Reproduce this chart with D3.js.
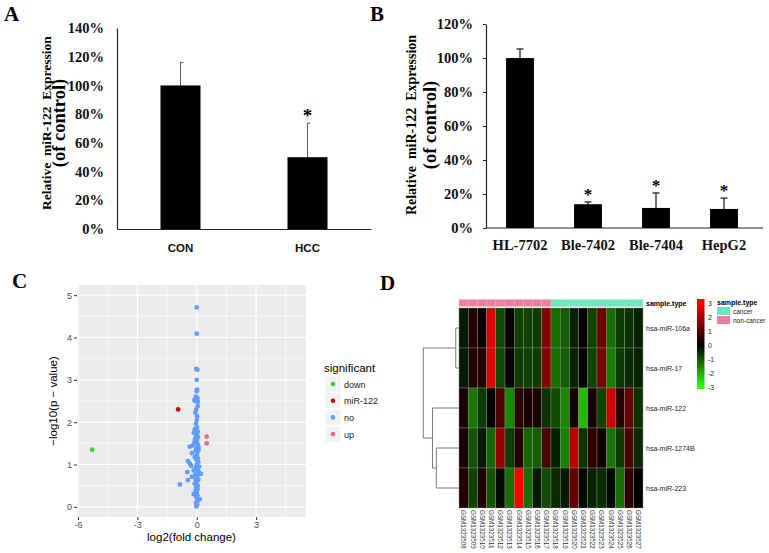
<!DOCTYPE html>
<html><head><meta charset="utf-8">
<script src="https://cdn.jsdelivr.net/npm/d3@7"></script>
<style>body{margin:0;background:#fff} svg{display:block}</style>
</head><body>
<svg id="c" width="769" height="553"></svg>
<script>
// ---------- Panel A ----------
const catsA = ["CON", "HCC"];
const valsA = [1.00, 0.50];
const errA = [0.159, 0.238];
const sigA = [false, true];
const ticksA = [0, 0.2, 0.4, 0.6, 0.8, 1.0, 1.2, 1.4];
// ---------- Panel B ----------
const catsB = ["HL-7702", "Ble-7402", "Ble-7404", "HepG2"];
const valsB = [1.00, 0.14, 0.118, 0.112];
const errB = [0.053, 0.013, 0.088, 0.064];
const sigB = [false, true, true, true];
const ticksB = [0, 0.2, 0.4, 0.6, 0.8, 1.0, 1.2];
// ---------- Panel C (volcano) ----------
const volcGroups = ["down", "miR-122", "no", "up"];
const volcColors = ["#3fcf2f", "#c00d0d", "#619cff", "#e6678c"];
const downX = [-5.28], downY = [1.35];
const mirX = [-0.94], mirY = [2.30];
const upX = [0.50, 0.50], upY = [1.66, 1.50];
const noX = [0,0,-0.03,0.03,0,0.02,0,-0.05,0.04,-0.08,0.06,-0.12,0.05,-0.03,-0.07,0.02,0,-0.04,0.01,-0.1,-0.05,0.05,-0.15,0.02,-0.03,0.06,-0.08,0,-0.12,0.04,-0.2,-0.35,0.08,-0.02,0.1,-0.06,0.03,-0.25,0,-0.1,0.05,-0.03,-0.45,0.08,-0.35,0,-0.28,0.12,-0.05,0.02,-0.15,0.06,-0.48,0.1,0.22,-0.08,0.03,-0.25,0,-0.05,0.08,-0.45,0,-0.85,-0.1,0.05,-0.02,0.04,-0.06,0,-0.15,0.03,-0.03,0.15,0.06,0,-0.04,0.02,0,-0.02];
const noY = [4.71,4.09,3.26,3.24,3.0,2.77,2.73,2.6,2.57,2.5,2.48,2.52,2.38,2.3,2.22,2.14,2.05,1.96,1.88,1.83,1.8,1.78,1.75,1.72,1.68,1.64,1.6,1.57,1.52,1.48,1.45,1.42,1.42,1.38,1.35,1.32,1.28,1.27,1.22,1.18,1.15,1.12,1.08,1.06,1.02,1.0,0.97,0.95,0.92,0.88,0.86,0.84,0.82,0.82,0.78,0.76,0.74,0.71,0.7,0.66,0.64,0.63,0.6,0.53,0.55,0.5,0.46,0.42,0.38,0.34,0.3,0.27,0.23,0.18,0.15,0.12,0.09,0.06,0.03,0.01];
const volcXTicks = [-6, -3, 0, 3];
const volcYTicks = [0, 1, 2, 3, 4, 5];
// ---------- Panel D (heatmap) ----------
const genes = ["hsa-miR-106a", "hsa-miR-17", "hsa-miR-122", "hsa-miR-1274B", "hsa-miR-223"];
const samples = ["GSM1323508","GSM1323509","GSM1323510","GSM1323511","GSM1323512","GSM1323513","GSM1323514","GSM1323515","GSM1323516","GSM1323517","GSM1323518","GSM1323519","GSM1323520","GSM1323521","GSM1323522","GSM1323523","GSM1323524","GSM1323525","GSM1323526","GSM1323527"];
const sampleType = ["non-cancer","non-cancer","non-cancer","non-cancer","non-cancer","non-cancer","non-cancer","non-cancer","non-cancer","non-cancer","cancer","cancer","cancer","cancer","cancer","cancer","cancer","cancer","cancer","cancer"];
const row106a = [-0.3,0.4,0.1,2.6,-0.9,0.1,-0.8,-0.8,-0.7,1.6,-1.3,-1.1,-0.4,0.0,-0.8,1.3,-1.3,-0.7,-0.6,-0.4];
const row17   = [-0.3,0.4,0.4,2.6,-0.9,0.1,-0.7,-0.8,-0.7,1.6,-1.3,-1.1,-0.4,0.0,-0.8,1.4,-1.5,-0.7,-0.5,-0.4];
const row122  = [0.3,-1.4,-0.7,0.0,0.9,-1.6,0.5,0.3,0.3,-0.6,-0.9,-1.6,0.3,-2.2,0.3,-0.8,2.4,0.5,1.2,-0.6];
const row1274B= [0.3,-1.0,-0.3,-1.2,1.8,-0.7,0.4,-1.2,-1.1,0.9,-0.4,-1.5,2.2,-0.6,0.5,0.2,-1.4,-0.7,0.9,-0.5];
const row223  = [0.4,-0.8,0.4,-1.0,-0.1,-1.3,3.0,-1.3,-0.3,-0.9,-0.5,-0.3,1.2,-0.1,-0.4,-0.5,-0.1,-1.3,0.6,0.0];
const heatRows = [row106a, row17, row122, row1274B, row223];
const legendTicks = [3, 2, 1, 0, -1, -2, -3];
const typeNames = ["cancer", "non-cancer"];
const typeColors = ["#6de6c2", "#f07f98"];
// dendrogram merges: [left, right, height]; negative = leaf index (1-based), positive = merge index (1-based)
const merges = [[-1, -2, 0.3], [-4, -5, 2.1], [-3, 2, 2.45], [1, 3, 3.3]];

const SERIF = "'Liberation Serif','Times New Roman',serif";
const SANS = "'Liberation Sans',Arial,sans-serif";
const svg = d3.select("#c");
const plain = d => String(d).replace("\u2212", "-");

function panelLabel(t, x, y) {
  svg.append("text").attr("x", x).attr("y", y).text(t)
    .attr("font-family", SERIF).attr("font-weight", "bold").attr("font-size", 21);
}
function yTitle(cy, x1, x2, fs1, fs2) {
  svg.append("text").attr("transform", `translate(${x1},${cy}) rotate(-90)`)
    .attr("text-anchor", "middle").attr("font-family", SERIF).attr("font-size", fs1).attr("font-weight", "bold")
    .text("Relative\u00a0\u00a0miR-122\u00a0\u00a0Expression");
  svg.append("text").attr("transform", `translate(${x2},${cy}) rotate(-90)`)
    .attr("text-anchor", "middle").attr("font-family", SERIF).attr("font-size", fs2)
    .attr("font-weight", "bold").text("(of control)");
}

// ================= Panel A =================
{
  panelLabel("A", 4, 21);
  const y = d3.scaleLinear().domain([0, 1.4]).range([229, 28]);
  const x = d3.scaleBand().domain(catsA).range([117, 371]).paddingInner(0.685).paddingOuter(0.3425);
  const g = svg.append("g");
  const ya = g.append("g").attr("transform", "translate(117,0)")
    .call(d3.axisLeft(y).tickValues(ticksA).tickFormat(d3.format(".0%")).tickSize(0).tickPadding(13));
  ya.select(".domain").attr("stroke", "#222").attr("stroke-width", 1.2);
  ya.selectAll("text").attr("font-family", SERIF).attr("font-weight", "bold").attr("font-size", 14.5).attr("fill", "#111");
  const xa = g.append("g").attr("transform", `translate(0,${y(0)})`)
    .call(d3.axisBottom(x).tickSize(0).tickPadding(15));
  xa.select(".domain").attr("stroke", "#222").attr("stroke-width", 1.2);
  xa.selectAll("text").attr("font-family", SANS).attr("font-weight", "bold").attr("font-size", 11.5).attr("fill", "#111");
  catsA.forEach((c, i) => {
    const cx = x(c) + x.bandwidth() / 2;
    g.append("line").attr("x1", cx).attr("x2", cx).attr("y1", y(valsA[i])).attr("y2", y(valsA[i] + errA[i]))
      .attr("stroke", "#555").attr("stroke-width", 1);
    g.append("line").attr("x1", cx).attr("x2", cx + 3).attr("y1", y(valsA[i] + errA[i])).attr("y2", y(valsA[i] + errA[i]))
      .attr("stroke", "#555").attr("stroke-width", 1);
    g.append("rect").attr("x", x(c)).attr("width", x.bandwidth()).attr("y", y(valsA[i])).attr("height", y(0) - y(valsA[i]))
      .attr("fill", "#000");
    if (sigA[i]) g.append("text").attr("x", cx).attr("y", y(valsA[i] + errA[i]) - 1).attr("text-anchor", "middle")
      .attr("font-family", SERIF).attr("font-weight", "bold").attr("font-size", 19).text("*");
  });
  yTitle(123, 51, 65, 13.5, 18.5);
}

// ================= Panel B =================
{
  panelLabel("B", 370, 21);
  const y = d3.scaleLinear().domain([0, 1.2]).range([228, 24]);
  const x = d3.scaleBand().domain(catsB).range([486, 758]).paddingInner(0.59).paddingOuter(0.295);
  const g = svg.append("g");
  const ya = g.append("g").attr("transform", "translate(486,0)")
    .call(d3.axisLeft(y).tickValues(ticksB).tickFormat(d3.format(".0%")).tickSize(3).tickSizeOuter(0).tickPadding(10));
  ya.select(".domain").attr("stroke", "#222").attr("stroke-width", 1.2);
  ya.selectAll(".tick line").attr("stroke", "#222");
  ya.selectAll("text").attr("font-family", SERIF).attr("font-weight", "bold").attr("font-size", 14.5).attr("fill", "#111");
  const xa = g.append("g").attr("transform", `translate(0,${y(0)})`)
    .call(d3.axisBottom(x).tickSize(0).tickPadding(12));
  xa.select(".domain").remove();
  g.append("line").attr("x1", 486).attr("x2", 763).attr("y1", y(0)).attr("y2", y(0)).attr("stroke", "#222").attr("stroke-width", 1.2);
  xa.selectAll("text").attr("font-family", SERIF).attr("font-weight", "bold").attr("font-size", 14.5).attr("fill", "#111");
  catsB.forEach((c, i) => {
    const cx = x(c) + x.bandwidth() / 2;
    const top = y(valsB[i] + errB[i]);
    g.append("line").attr("x1", cx).attr("x2", cx).attr("y1", y(valsB[i])).attr("y2", top).attr("stroke", "#111").attr("stroke-width", 1.2);
    g.append("line").attr("x1", cx - 3.5).attr("x2", cx + 3.5).attr("y1", top).attr("y2", top).attr("stroke", "#111").attr("stroke-width", 1.2);
    g.append("rect").attr("x", x(c)).attr("width", x.bandwidth()).attr("y", y(valsB[i])).attr("height", y(0) - y(valsB[i])).attr("fill", "#000");
    if (sigB[i]) g.append("text").attr("x", cx).attr("y", top - 2).attr("text-anchor", "middle")
      .attr("font-family", SERIF).attr("font-weight", "bold").attr("font-size", 17).text("*");
  });
  yTitle(125, 416, 436, 14, 18.5);
}

// ================= Panel C =================
{
  panelLabel("C", 12, 288);
  const x = d3.scaleLinear().domain([-6.05, 5.52]).range([77, 306]);
  const y = d3.scaleLinear().domain([-0.24, 5.24]).range([517, 285]);
  const g = svg.append("g");
  g.append("rect").attr("x", x.range()[0]).attr("y", y.range()[1]).attr("width", x.range()[1] - x.range()[0])
    .attr("height", y.range()[0] - y.range()[1]).attr("fill", "#ebebeb");
  const xMinor = volcXTicks.map(v => v + 1.5);
  const yMinor = volcYTicks.map(v => v + 0.5).filter(v => v < 5.24);
  g.selectAll(".xm").data(xMinor).join("line").attr("x1", d => x(d)).attr("x2", d => x(d)).attr("y1", y.range()[0]).attr("y2", y.range()[1]).attr("stroke", "#fff").attr("stroke-width", 0.6);
  g.selectAll(".ym").data(yMinor).join("line").attr("y1", d => y(d)).attr("y2", d => y(d)).attr("x1", x.range()[0]).attr("x2", x.range()[1]).attr("stroke", "#fff").attr("stroke-width", 0.6);
  g.selectAll(".xM").data(volcXTicks).join("line").attr("x1", d => x(d)).attr("x2", d => x(d)).attr("y1", y.range()[0]).attr("y2", y.range()[1]).attr("stroke", "#fff").attr("stroke-width", 1.2);
  g.selectAll(".yM").data(volcYTicks).join("line").attr("y1", d => y(d)).attr("y2", d => y(d)).attr("x1", x.range()[0]).attr("x2", x.range()[1]).attr("stroke", "#fff").attr("stroke-width", 1.2);
  const xa = g.append("g").attr("transform", `translate(0,${y.range()[0]})`).call(d3.axisBottom(x).tickValues(volcXTicks).tickFormat(plain).tickSize(3).tickPadding(2));
  const ya = g.append("g").attr("transform", `translate(${x.range()[0]},0)`).call(d3.axisLeft(y).tickValues(volcYTicks).tickFormat(plain).tickSize(3).tickPadding(2));
  [xa, ya].forEach(a => {
    a.select(".domain").remove();
    a.selectAll(".tick line").attr("stroke", "#333");
    a.selectAll("text").attr("font-family", SANS).attr("font-size", 9).attr("fill", "#4d4d4d");
  });
  const sets = [[downX, downY], [mirX, mirY], [noX, noY], [upX, upY]];
  sets.forEach((s, k) => {
    const pts = s[0].map((v, i) => [v, s[1][i]]);
    g.selectAll(null).data(pts).join("circle").attr("cx", d => x(d[0])).attr("cy", d => y(d[1])).attr("r", 2.4)
      .attr("fill", volcColors[k]);
  });
  g.append("text").attr("x", (x.range()[0] + x.range()[1]) / 2).attr("y", 541).attr("text-anchor", "middle")
    .attr("font-family", SANS).attr("font-size", 11.5).text("log2(fold change)");
  g.append("text").attr("transform", `translate(57,${(y.range()[0] + y.range()[1]) / 2}) rotate(-90)`).attr("text-anchor", "middle")
    .attr("font-family", SANS).attr("font-size", 11.5).text("\u2212log10(p \u2212 value)");
  // legend
  const lg = g.append("g").attr("transform", "translate(324,0)");
  lg.append("text").attr("x", 0).attr("y", 372).attr("font-family", SANS).attr("font-size", 11.5).text("significant");
  volcGroups.forEach((nm, k) => {
    const ky = 376 + k * 16.7;
    lg.append("rect").attr("x", 1).attr("y", ky).attr("width", 16).attr("height", 16).attr("fill", "#f2f2f2").attr("stroke", "#fff");
    lg.append("circle").attr("cx", 9).attr("cy", ky + 8).attr("r", 2.3).attr("fill", volcColors[k]);
    lg.append("text").attr("x", 20).attr("y", ky + 11.5).attr("font-family", SANS).attr("font-size", 9).attr("fill", "#222").text(nm);
  });
}

// ================= Panel D =================
{
  panelLabel("D", 380, 290);
  const g = svg.append("g");
  const x = d3.scaleBand().domain(samples).range([459, 643]);
  const y = d3.scaleBand().domain(genes).range([308, 508]);
  const col = d3.scaleLinear().domain([-3, 0, 3]).range(["#33ff00", "#000000", "#ff0000"]);
  const typeCol = d3.scaleOrdinal().domain(typeNames).range(typeColors);
  // annotation bar
  g.selectAll(".ann").data(samples).join("rect").attr("x", d => x(d)).attr("y", 299.5).attr("width", x.bandwidth()).attr("height", 7)
    .attr("fill", (d, i) => typeCol(sampleType[i])).attr("stroke", "#c8c8c8").attr("stroke-width", 0.4);
  g.append("text").attr("x", 646).attr("y", 305.5).attr("font-family", SANS).attr("font-weight", "bold").attr("font-size", 7).text("sample.type");
  // cells
  heatRows.forEach((row, r) => {
    g.selectAll(null).data(row).join("rect").attr("x", (d, i) => x(samples[i])).attr("y", y(genes[r]))
      .attr("width", x.bandwidth()).attr("height", y.bandwidth()).attr("fill", d => col(d))
      .attr("stroke", "#8f8f8f").attr("stroke-width", 0.4);
  });
  // row labels
  g.selectAll(".rl").data(genes).join("text").attr("x", 646).attr("y", d => y(d) + y.bandwidth() / 2 + 2.5)
    .attr("font-family", SANS).attr("font-size", 7).attr("fill", "#222").text(d => d);
  // column labels
  g.selectAll(".cl").data(samples).join("text")
    .attr("transform", d => `translate(${x(d) + x.bandwidth() / 2 - 2.2},${y.range()[1] + 2}) rotate(90)`)
    .attr("font-family", SANS).attr("font-size", 6.3).attr("fill", "#333").text(d => d);
  // dendrogram
  const hx = d3.scaleLinear().domain([0, 3.3]).range([459, 423.3]);
  const nodeY = [], nodeX = [];
  function pos(id) {
    if (id < 0) return [hx(0), y(genes[-id - 1]) + y.bandwidth() / 2];
    return [nodeX[id - 1], nodeY[id - 1]];
  }
  merges.forEach((m, k) => {
    const a = pos(m[0]), b = pos(m[1]);
    const hxv = hx(m[2]);
    nodeX[k] = hxv; nodeY[k] = (a[1] + b[1]) / 2;
    const p = `M${a[0]},${a[1]}H${hxv}V${b[1]}H${b[0]}`;
    g.append("path").attr("d", p).attr("fill", "none").attr("stroke", "#7a7a7a").attr("stroke-width", 1);
  });
  // colour legend
  const ly = d3.scaleLinear().domain([3, -3]).range([303, 387]);
  const defs = svg.append("defs");
  const grad = defs.append("linearGradient").attr("id", "hg").attr("x1", 0).attr("x2", 0).attr("y1", 0).attr("y2", 1);
  [3, 0, -3].forEach(v => grad.append("stop").attr("offset", (ly(v) - 299) / (389 - 299)).attr("stop-color", col(v)));
  g.append("rect").attr("x", 697).attr("y", 299).attr("width", 7.5).attr("height", 90).attr("fill", "url(#hg)");
  g.selectAll(".lt").data(legendTicks).join("text").attr("x", 708).attr("y", d => ly(d) + 2.5)
    .attr("font-family", SANS).attr("font-size", 6.8).attr("fill", "#222").text(plain);
  g.append("text").attr("x", 717).attr("y", 305).attr("font-family", SANS).attr("font-weight", "bold").attr("font-size", 7).text("sample.type");
  typeNames.forEach((nm, k) => {
    g.append("rect").attr("x", 717).attr("y", 307 + k * 9).attr("width", 13).attr("height", 8).attr("fill", typeColors[k]);
    g.append("text").attr("x", 733).attr("y", 313.5 + k * 9).attr("font-family", SANS).attr("font-size", 6.5).attr("fill", "#222").text(nm);
  });
}
</script>
</body></html>
